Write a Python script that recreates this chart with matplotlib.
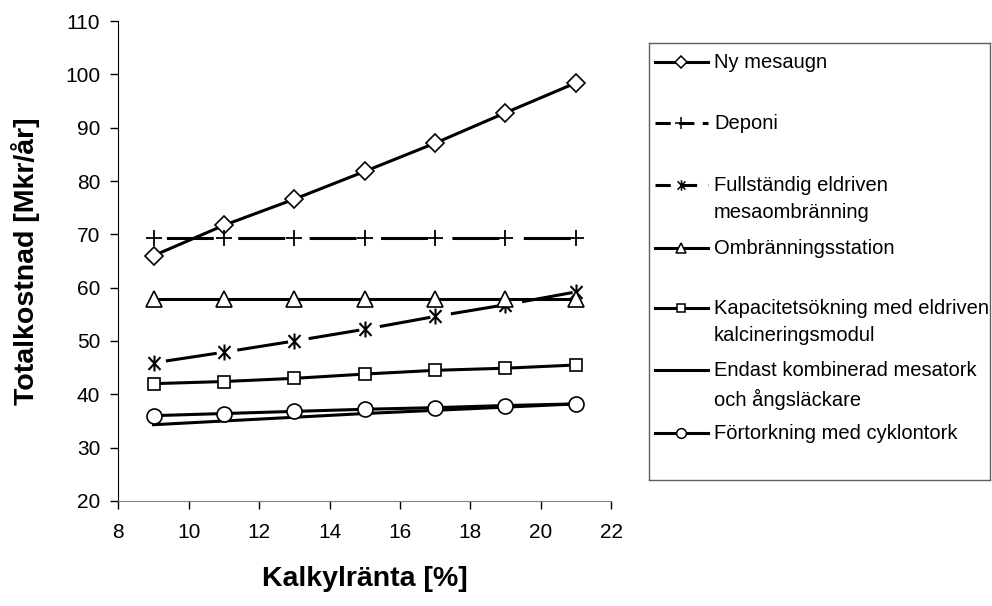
import numpy as np
import matplotlib.pyplot as plt
from matplotlib.path import Path

plt.rcParams['font.family'] = ['Liberation Sans', 'DejaVu Sans']
plt.rcParams['lines.scale_dashes'] = False

# kalkylränta [%]
ranta = [9, 11, 13, 15, 17, 19, 21]

ny_mesaugn = [66.0, 71.7, 76.6, 81.8, 87.1, 92.8, 98.4]
deponi = [69.4, 69.4, 69.4, 69.4, 69.4, 69.4, 69.4]
fullstandig = [45.9, 47.9, 50.0, 52.2, 54.6, 56.8, 59.2]
ombranning = [57.9, 57.9, 57.9, 57.9, 57.9, 57.9, 57.9]
kapacitet = [42.0, 42.4, 43.0, 43.8, 44.5, 44.9, 45.5]
endast = [34.3, 35.0, 35.7, 36.4, 37.0, 37.6, 38.2]
fortorkning = [36.0, 36.4, 36.8, 37.2, 37.5, 37.9, 38.2]

labels = ["Ny mesaugn", "Deponi", "Fullständig eldriven\nmesaombränning",
          "Ombränningsstation", "Kapacitetsökning med eldriven\nkalcineringsmodul",
          "Endast kombinerad mesatork\noch ångsläckare", "Förtorkning med cyklontork"]

# asterisk like the excel one: X plus vertical bar
ast = Path([(0, -1), (0, 1), (-0.75, -0.8), (0.75, 0.8), (-0.75, 0.8), (0.75, -0.8)],
           [Path.MOVETO, Path.LINETO] * 3)

styles = [
    dict(ls='-', marker='D', ms=9.2, mfc='white'),
    dict(ls=(42.5, (33.8, 17.6)), marker='+', ms=12, mew=1.3),
    dict(ls=(43.0, (37.0, 15.0)), marker=ast, ms=11.5, mew=1.5),
    dict(ls='-', marker='^', ms=11.5, mfc='white'),
    dict(ls='-', marker='s', ms=8.5, mfc='white'),
    dict(ls='-', marker=None),
    dict(ls='-', marker='o', ms=10.8, mfc='white'),
]
series = [ny_mesaugn, deponi, fullstandig, ombranning, kapacitet, endast, fortorkning]

fig = plt.figure(figsize=(9.92, 6.06), dpi=100)
ax = fig.add_axes([0.1193, 0.1733, 0.4967, 0.792])

for y, st in zip(series, styles):
    st = dict(st)
    ax.plot(ranta, y, color='black', lw=2.2, mec='black', mew=st.pop('mew', 1.2), **st)

ax.set_xlim(8, 22)
ax.set_ylim(20, 110)
ax.set_xticks(np.arange(8, 23, 2))
ax.set_yticks(np.arange(20, 111, 10))
ax.spines['top'].set_visible(False)
ax.spines['right'].set_visible(False)
ax.spines['bottom'].set_color('#808080')
ax.tick_params(labelsize=15, length=6, width=1, direction='out')
ax.tick_params(axis='x', pad=10, color='black')
ax.tick_params(axis='y', pad=7)
ax.set_xlabel("Kalkylränta [%]", fontsize=20.5, fontweight='bold', labelpad=17)
ax.set_ylabel("Totalkostnad [Mkr/år]", fontsize=20.5, fontweight='bold', labelpad=18)

# legend drawn in its own box, Excel style (entries evenly spaced from first line)
lg = fig.add_axes([649 / 992, 1 - 480 / 606, 341 / 992, 437 / 606])
lg.set_xlim(0, 341)
lg.set_ylim(437, 0)
lg.set_xticks([])
lg.set_yticks([])
for s in lg.spines.values():
    s.set_color('#606060')
    s.set_linewidth(1)

rows = [18.5, 80, 142, 204.5, 265, 327, 390]
leg_ms = [6, 9, 7.5, 7, 6, None, 7]
leg_ls = ['-', (0, (11, 6)), (0, (11, 8)), '-', '-', '-', '-']
for lab, st, yy, ms, ls in zip(labels, styles, rows, leg_ms, leg_ls):
    lg.plot([6, 59], [yy, yy], color='black', lw=2.2, ls=ls)
    if st.get('marker') is not None:
        lg.plot([32], [yy], marker=st['marker'], ms=ms, mfc='white', mec='black',
                mew=1.1, color='black', ls='none')
    lg.text(65, yy - 9, lab, fontsize=14.5, va='top', ha='left', linespacing=1.55)

fig.savefig('out.png', dpi=100)
